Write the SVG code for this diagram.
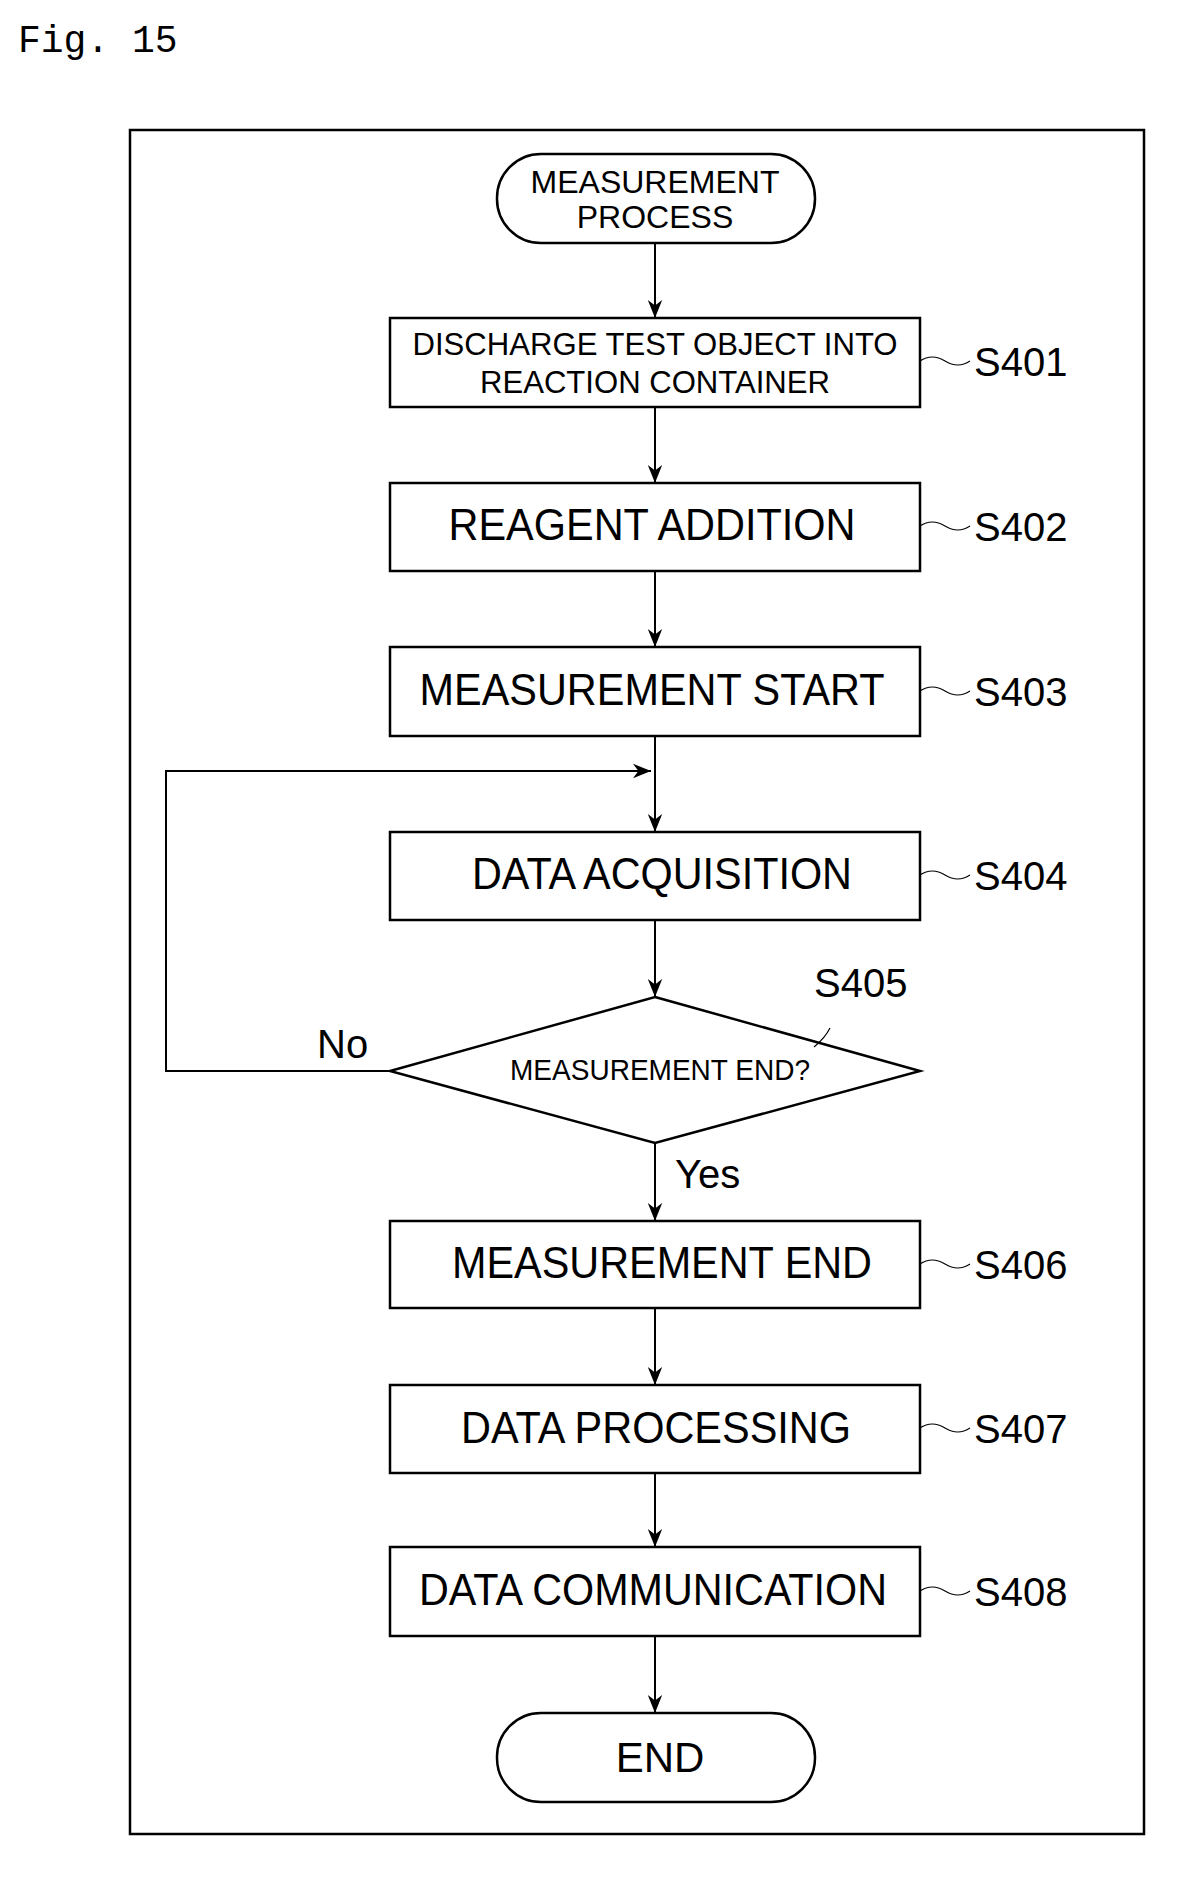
<svg xmlns="http://www.w3.org/2000/svg" width="1183" height="1881" viewBox="0 0 1183 1881">
<defs>
<style>
.b{fill:#fff;stroke:#000;stroke-width:2.5}
.t{font-family:"Liberation Sans",Arial,sans-serif;fill:#000;text-anchor:middle}
.s{font-family:"Liberation Sans",Arial,sans-serif;fill:#000;font-size:40px}
.c{fill:none;stroke:#000;stroke-width:2}
.q{fill:none;stroke:#000;stroke-width:1.2}
</style>
<marker id="a" viewBox="0 0 10 10" refX="10" refY="5" markerWidth="18" markerHeight="18" markerUnits="userSpaceOnUse" orient="auto"><path d="M0,1 L10,5 L0,9 L3,5 z" fill="#000"/></marker>
</defs>
<rect width="1183" height="1881" fill="#fff"/>
<text x="18" y="52" font-family="Liberation Mono,monospace" font-size="38">Fig. 15</text>
<rect x="130" y="130" width="1014" height="1704" class="b" fill="none"/>
<g id="connectors">
<line x1="655" y1="243" x2="655" y2="318" class="c" marker-end="url(#a)"/>
<line x1="655" y1="407" x2="655" y2="483" class="c" marker-end="url(#a)"/>
<line x1="655" y1="571" x2="655" y2="647" class="c" marker-end="url(#a)"/>
<line x1="655" y1="736" x2="655" y2="832" class="c" marker-end="url(#a)"/>
<polyline points="390,1071 166,1071 166,771 651,771" class="c" marker-end="url(#a)"/>
<line x1="655" y1="920" x2="655" y2="997" class="c" marker-end="url(#a)"/>
<line x1="655" y1="1143" x2="655" y2="1221" class="c" marker-end="url(#a)"/>
<line x1="655" y1="1308" x2="655" y2="1385" class="c" marker-end="url(#a)"/>
<line x1="655" y1="1473" x2="655" y2="1547" class="c" marker-end="url(#a)"/>
<line x1="655" y1="1636" x2="655" y2="1713" class="c" marker-end="url(#a)"/>
<text x="317" y="1058" class="s" font-size="36">No</text>
<text x="675" y="1188" class="s" font-size="36">Yes</text>
</g>
<g id="start"><rect x="497" y="154" width="318" height="89" rx="44" class="b"/>
<text class="t" x="655" y="193" font-size="32">MEASUREMENT</text><text class="t" x="655" y="228" font-size="32">PROCESS</text></g>
<g id="s401"><rect x="390" y="318" width="530" height="89" class="b"/>
<text class="t" x="655" y="355" font-size="32" textLength="485" lengthAdjust="spacingAndGlyphs">DISCHARGE TEST OBJECT INTO</text>
<text class="t" x="655" y="393" font-size="32" textLength="350" lengthAdjust="spacingAndGlyphs">REACTION CONTAINER</text>
<path d="M920,361 q12,-8 25,0 t25,0" class="q"/><text class="s" x="974" y="376">S401</text></g>
<g id="s402"><rect x="390" y="483" width="530" height="88" class="b"/>
<text class="t" x="652" y="540" font-size="44" textLength="407" lengthAdjust="spacingAndGlyphs">REAGENT ADDITION</text>
<path d="M920,526 q12,-8 25,0 t25,0" class="q"/><text class="s" x="974" y="541">S402</text></g>
<g id="s403"><rect x="390" y="647" width="530" height="89" class="b"/>
<text class="t" x="652" y="705" font-size="44" textLength="465" lengthAdjust="spacingAndGlyphs">MEASUREMENT START</text>
<path d="M920,691 q12,-8 25,0 t25,0" class="q"/><text class="s" x="974" y="706">S403</text></g>
<g id="s404"><rect x="390" y="832" width="530" height="88" class="b"/>
<text class="t" x="662" y="889" font-size="44" textLength="380" lengthAdjust="spacingAndGlyphs">DATA ACQUISITION</text>
<path d="M920,875 q12,-8 25,0 t25,0" class="q"/><text class="s" x="974" y="890">S404</text></g>
<g id="s405"><polygon points="655,997 920,1071 655,1143 390,1071" class="b"/>
<text class="t" x="660" y="1080" font-size="30" textLength="300" lengthAdjust="spacingAndGlyphs">MEASUREMENT END?</text>
<path d="M830,1028 q-5,10 -16,19" class="q"/><text class="s" x="814" y="997">S405</text></g>
<g id="s406"><rect x="390" y="1221" width="530" height="87" class="b"/>
<text class="t" x="662" y="1278" font-size="44" textLength="420" lengthAdjust="spacingAndGlyphs">MEASUREMENT END</text>
<path d="M920,1264 q12,-8 25,0 t25,0" class="q"/><text class="s" x="974" y="1279">S406</text></g>
<g id="s407"><rect x="390" y="1385" width="530" height="88" class="b"/>
<text class="t" x="656" y="1443" font-size="44" textLength="390" lengthAdjust="spacingAndGlyphs">DATA PROCESSING</text>
<path d="M920,1428 q12,-8 25,0 t25,0" class="q"/><text class="s" x="974" y="1443">S407</text></g>
<g id="s408"><rect x="390" y="1547" width="530" height="89" class="b"/>
<text class="t" x="653" y="1605" font-size="44" textLength="468" lengthAdjust="spacingAndGlyphs">DATA COMMUNICATION</text>
<path d="M920,1591 q12,-8 25,0 t25,0" class="q"/><text class="s" x="974" y="1606">S408</text></g>
<g id="end"><rect x="497" y="1713" width="318" height="89" rx="44" class="b"/>
<text class="t" x="660" y="1772" font-size="42">END</text></g>
</svg>
